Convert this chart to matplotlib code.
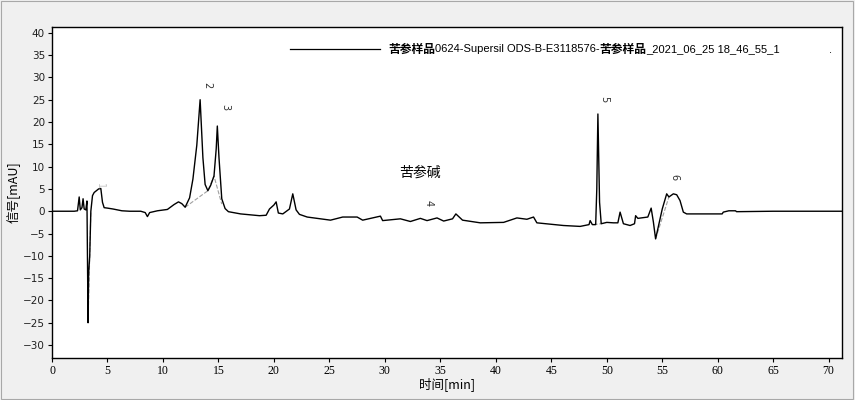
"""
苦参样品 色谱图 重绘
"""

import numpy as np
import matplotlib
matplotlib.use("Agg")
import matplotlib.pyplot as plt
from matplotlib.lines import Line2D
from matplotlib.patches import Rectangle

plt.rcParams['font.family'] = ['Noto Sans CJK SC', 'DejaVu Sans']

# 色谱数据 (时间 min, 信号 mAU)
time_min = [0.0, 2.0, 2.3, 2.45, 2.55, 2.7, 2.8, 2.9, 3.05, 3.15, 3.25, 3.3, 3.4, 3.5,
            3.65, 3.8, 4.0, 4.2, 4.4, 4.55, 4.7, 5.0, 5.5, 6.3, 7.0, 8.0, 8.4, 8.6, 8.8,
            9.5, 10.4, 11.0, 11.4, 11.7, 12.0, 12.4, 12.7, 13.05, 13.35, 13.6, 13.8,
            14.05, 14.3, 14.6, 14.8, 14.9, 15.05, 15.3, 15.6, 15.9, 17.0, 18.7, 19.3,
            19.6, 20.0, 20.2, 20.4, 20.8, 21.4, 21.7, 22.0, 22.3, 23.0, 24.2, 25.1,
            26.2, 27.5, 28.0, 29.6, 29.8, 31.4, 32.3, 33.2, 33.8, 34.7, 35.3, 36.1,
            36.4, 37.0, 38.6, 40.7, 41.9, 42.8, 43.4, 43.7, 46.1, 47.6, 48.4, 48.5,
            48.7, 49.0, 49.1, 49.2, 49.35, 49.5, 50.0, 50.6, 51.0, 51.2, 51.5, 52.1,
            52.5, 52.6, 52.8, 53.7, 54.0, 54.2, 54.4, 55.0, 55.4, 55.6, 56.0, 56.3,
            56.6, 56.9, 57.2, 60.4, 60.5, 61.0, 61.6, 61.7, 65.0, 71.2]
signal_mau = [0.0, 0.0, 0.1, 3.2, 0.3, 0.8, 2.8, 0.5, 0.3, 2.3, -25.0, -14.0, -10.0, 0.0,
              3.5, 4.2, 4.6, 5.0, 5.1, 2.0, 0.8, 0.7, 0.5, 0.1, 0.0, 0.0, -0.3, -1.2, -0.3,
              0.1, 0.4, 1.5, 2.1, 1.7, 0.9, 3.0, 7.2, 14.8, 25.0, 12.0, 6.0,
              4.6, 5.8, 7.9, 14.0, 19.1, 12.0, 2.8, 0.6, -0.1, -0.6, -1.0, -0.9,
              0.5, 1.4, 2.1, -0.4, -0.6, 0.5, 3.9, 0.3, -0.7, -1.3, -1.7, -2.0,
              -1.3, -1.3, -2.0, -1.1, -2.1, -1.7, -2.3, -1.6, -2.1, -1.5, -2.2, -1.7,
              -0.6, -2.0, -2.6, -2.5, -1.5, -1.8, -1.3, -2.6, -3.2, -3.4, -3.0, -2.1,
              -3.0, -3.0, 5.0, 21.8, 2.0, -2.8, -2.5, -2.6, -2.6, -0.2, -2.8, -3.2,
              -2.8, -1.0, -1.6, -1.3, 0.7, -2.4, -6.2, 0.5, 3.9, 3.2, 3.9, 3.7,
              2.4, -0.2, -0.6, -0.6, -0.2, 0.1, 0.1, -0.1, 0.0, 0.0]

# 积分基线 (灰色)
base_t = [3.25, 3.5, np.nan, 12.0, 14.05, 14.6, 15.3, np.nan, 48.8, 49.5, np.nan, 54.4, 55.6]
base_y = [-25.0, 0.0, np.nan, 0.9, 4.6, 7.9, 1.6, np.nan, -3.0, -2.8, np.nan, -6.2, 3.2]

# 峰编号
peak_ids = ['1', '2', '3', '4', '5', '6']
peak_t = [4.3, 14.0, 15.6, 33.9, 49.8, 56.1]
peak_label_y = [5.6, 28.3, 23.4, 1.9, 25.2, 7.7]
peak_colors = ['#c8c8c8', '#303030', '#303030', '#303030', '#303030', '#303030']

legend_parts = [('苦参样品', 'bold'), ('0624-Supersil ODS-B-E3118576-', 'normal'),
                ('苦参样品', 'bold'), ('_2021_06_25 18_46_55_1', 'normal')]

fig = plt.figure(figsize=(8.55, 4.0), dpi=100)
fig.patch.set_facecolor('#f0f0f0')
fig.patches.append(Rectangle((0.001, 0.002), 0.997, 0.995, transform=fig.transFigure,
                             fill=False, edgecolor='#a8a8a8', linewidth=0.8))

ax = fig.add_axes([52 / 855, 1 - 358 / 400, 790 / 855, 331 / 400])
ax.set_facecolor('white')

ax.plot(base_t, base_y, color='#a0a0a0', linewidth=0.8, linestyle='--')
ax.plot(time_min, signal_mau, color='black', linewidth=1.0)

ax.set_xlim(0, 71.2)
ax.set_ylim(-32.9, 41.3)
ax.set_xticks(np.arange(0, 71, 5))
ax.set_yticks(np.arange(-30, 41, 5))
ax.tick_params(direction='out', length=3, width=0.8, pad=2)
for lab in ax.get_xticklabels():
    lab.set_fontfamily('Liberation Serif')
    lab.set_fontsize(8.5)
for lab in ax.get_yticklabels():
    lab.set_fontfamily('DejaVu Sans')
    lab.set_fontsize(7.5)
    lab.set_color('#202020')
for sp in ax.spines.values():
    sp.set_linewidth(1.0)

ax.set_xlabel('时间[min]', fontsize=9, labelpad=0)
ax.set_ylabel('信号[mAU]', fontsize=9, labelpad=2)

for pid, pt, py, pc in zip(peak_ids, peak_t, peak_label_y, peak_colors):
    ax.text(pt, py, pid, rotation=270, fontsize=7, ha='center', va='center',
            family='DejaVu Sans', color=pc)

ax.text(33.2, 8.6, '苦参碱', fontsize=10, ha='center', va='center')

# 图例
ax.add_line(Line2D([0.301, 0.415], [0.934, 0.934], transform=ax.transAxes,
                   color='black', linewidth=0.9))
renderer = fig.canvas.get_renderer()
x0 = 388
for txt, wt in legend_parts:
    fam = ['Noto Sans CJK SC'] if wt == 'bold' else ['Liberation Sans', 'Noto Sans CJK SC']
    t = fig.text(x0 / 855, 1 - 49 / 400, txt, fontsize=8.5 if wt == 'bold' else 8,
                 fontweight=wt, family=fam, ha='left', va='center')
    bb = t.get_window_extent(renderer)
    x0 = bb.x1
fig.text(830 / 855, 1 - 50 / 400, '.', fontsize=8, family='Liberation Sans',
         ha='center', va='center')

plt.savefig('out.png', dpi=100, facecolor=fig.get_facecolor())
